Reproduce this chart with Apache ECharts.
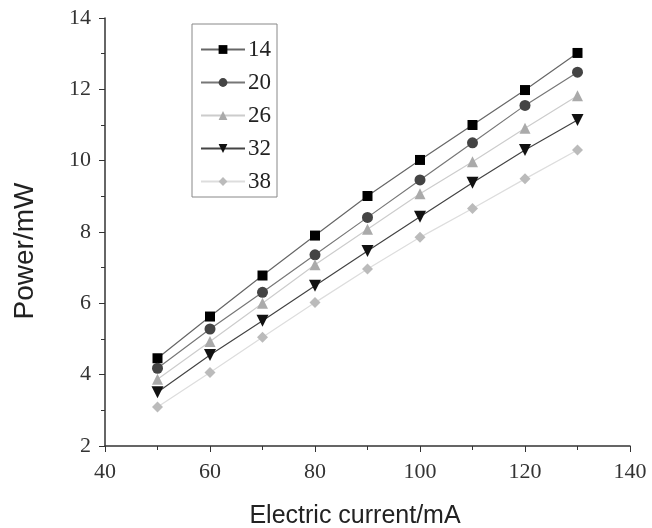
<!DOCTYPE html>
<html>
<head>
<meta charset="utf-8">
<script src="https://cdn.jsdelivr.net/npm/echarts@6/dist/echarts.min.js"></script>
<style>
  html, body { margin: 0; padding: 0; background: #fff; }
  #container { width: 652px; height: 528px; }
</style>
</head>
<body>
<div id="container"></div>
<script>
// current in mA
let current = [50, 60, 70, 80, 90, 100, 110, 120, 130];

let p14 = [4.46, 5.63, 6.78, 7.90, 9.01, 10.02, 11.0, 11.98, 13.02];
let p20 = [4.18, 5.28, 6.31, 7.36, 8.41, 9.46, 10.5, 11.55, 12.48];
let p26 = [3.87, 4.93, 6.0, 7.08, 8.08, 9.07, 9.97, 10.91, 11.82];
let p32 = [3.51, 4.55, 5.51, 6.49, 7.47, 8.43, 9.38, 10.3, 11.14];
let p38 = [3.09, 4.06, 5.05, 6.02, 6.96, 7.85, 8.66, 9.49, 10.3];

let names = ['14', '20', '26', '32', '38'];

let dom = document.getElementById('container');
let chart = echarts.init(dom);

function pairs(ys) {
    return current.map((x, i) => [x, ys[i]]);
}

function makeSeries(name, ys, symbol, size, markerColor, lineColor) {
    return {
        name: name,
        type: 'line',
        data: pairs(ys),
        symbol: symbol,
        symbolSize: size,
        showAllSymbol: true,
        itemStyle: { color: markerColor },
        lineStyle: { color: lineColor, width: 1.2 },
        emphasis: { disabled: true },
        z: 3
    };
}

let downTri = 'path://M0,0 L10,0 L5,9 Z';

chart.setOption({
    animation: false,
    backgroundColor: '#fff',
    grid: { left: 105, right: 22, top: 18, bottom: 82, containLabel: false, outerBoundsMode: 'none' },
    legend: {
        orient: 'vertical',
        left: 192,
        top: 24,
        width: 91,
        padding: [14, 6, 4, 8],
        itemGap: 10,
        itemWidth: 44,
        itemHeight: 11,
        borderColor: '#888',
        borderWidth: 1,
        textStyle: { fontFamily: 'Liberation Serif', fontSize: 23, color: '#222', padding: [0, 0, 0, -2] },
        data: names
    },
    xAxis: {
        type: 'value',
        min: 40, max: 140, interval: 20,
        name: 'Electric current/mA',
        nameLocation: 'middle',
        nameGap: 58,
        nameTextStyle: { fontFamily: 'Liberation Sans', fontSize: 25, color: '#222', padding: [0, 25, 0, 0] },
        axisLine: { lineStyle: { color: '#333', width: 1.5 } },
        axisTick: { inside: false, length: 6, lineStyle: { color: '#333' } },
        minorTick: { show: true, splitNumber: 2, length: 4, lineStyle: { color: '#333' } },
        splitLine: { show: false },
        axisLabel: { fontFamily: 'Liberation Serif', fontSize: 22, color: '#333', margin: 15 }
    },
    yAxis: {
        type: 'value',
        min: 2, max: 14, interval: 2,
        name: 'Power/mW',
        nameLocation: 'middle',
        nameGap: 66,
        nameTextStyle: { fontFamily: 'Liberation Sans', fontSize: 28, color: '#222', padding: [0, 38, 0, 0] },
        axisLine: { show: true, lineStyle: { color: '#333', width: 1.5 } },
        axisTick: { show: true, inside: false, length: 6, lineStyle: { color: '#333' } },
        minorTick: { show: true, splitNumber: 2, length: 4, lineStyle: { color: '#333' } },
        splitLine: { show: false },
        axisLabel: { fontFamily: 'Liberation Serif', fontSize: 22, color: '#333', margin: 14 }
    },
    series: [
        makeSeries('14', p14, 'rect', 10, '#000', '#666'),
        makeSeries('20', p20, 'circle', 11, '#444', '#777'),
        makeSeries('26', p26, 'triangle', 11, '#aaa', '#ccc'),
        makeSeries('32', p32, downTri, 12, '#111', '#444'),
        makeSeries('38', p38, 'diamond', 11, '#bbb', '#ddd')
    ]
});
</script>
</body>
</html>
